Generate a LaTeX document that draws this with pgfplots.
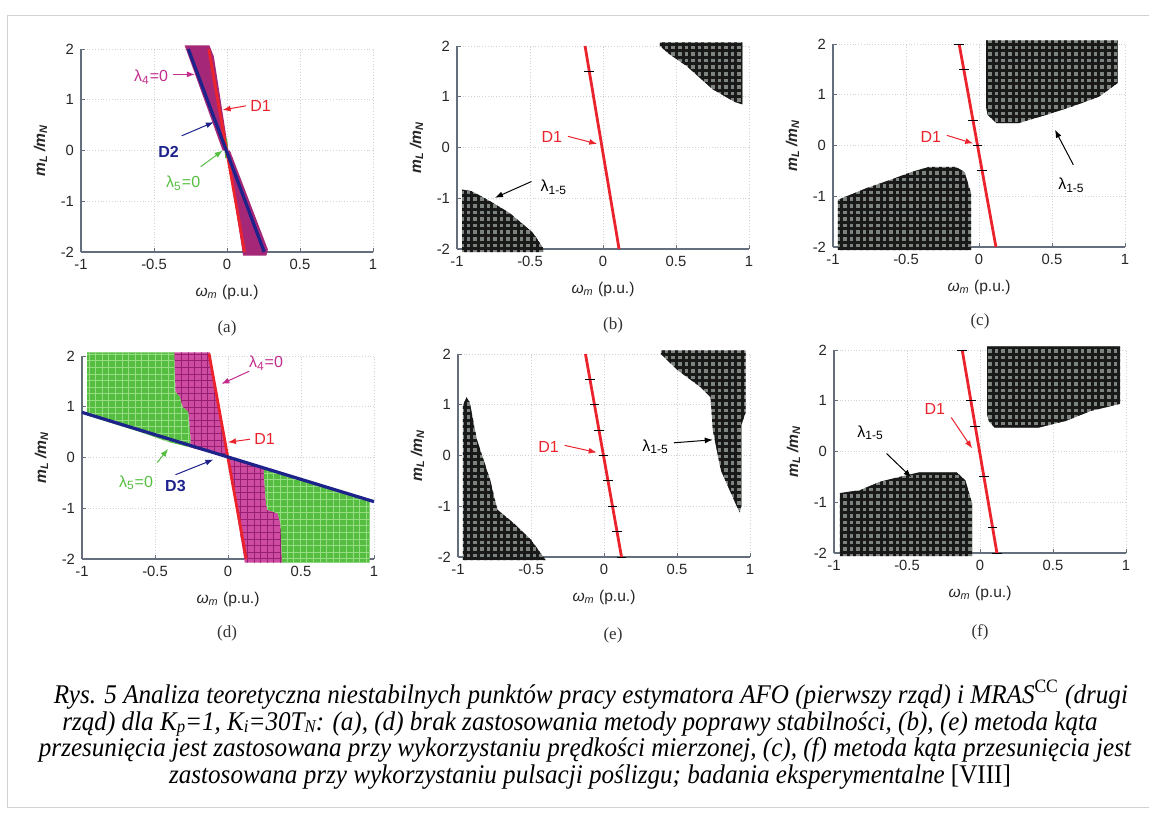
\documentclass[border=0pt]{standalone}
\usepackage{fontspec}
\setmainfont{Liberation Serif}
\setsansfont{Liberation Sans}
\newfontfamily\capfont{Liberation Serif}[FakeStretch=0.93]
\usepackage{pgfplots}
\pgfplotsset{compat=1.18}
\usetikzlibrary{arrows.meta,patterns}
\newcommand\csub[1]{\raisebox{-0.18ex}{\fontsize{9}{9}\selectfont #1}}

\definecolor{myred}{RGB}{235,35,45}
\definecolor{myblue}{RGB}{30,35,140}
\definecolor{mymag}{RGB}{195,45,140}
\definecolor{magfill}{RGB}{205,75,160}
\definecolor{magdark}{RGB}{150,30,115}
\definecolor{magA}{RGB}{165,40,120}
\definecolor{mygreen}{RGB}{85,190,65}
\definecolor{greenlight}{RGB}{150,220,130}
\definecolor{axgray}{RGB}{100,110,125}
\definecolor{darkfill}{RGB}{125,132,125}

\pgfdeclarepatternformonly{mygrid}{\pgfqpoint{-1pt}{-1pt}}{\pgfqpoint{4.3pt}{4.3pt}}{\pgfqpoint{3.3pt}{3.3pt}}{%
  \pgfsetlinewidth{1.5pt}%
  \pgfpathmoveto{\pgfqpoint{0pt}{1.65pt}}\pgfpathlineto{\pgfqpoint{3.3pt}{1.65pt}}%
  \pgfpathmoveto{\pgfqpoint{1.65pt}{0pt}}\pgfpathlineto{\pgfqpoint{1.65pt}{3.3pt}}%
  \pgfusepath{stroke}}
\pgfdeclarepatternformonly{thingrid}{\pgfqpoint{-1pt}{-1pt}}{\pgfqpoint{4.3pt}{4.3pt}}{\pgfqpoint{3.3pt}{3.3pt}}{%
  \pgfsetlinewidth{0.5pt}%
  \pgfpathmoveto{\pgfqpoint{0pt}{1.65pt}}\pgfpathlineto{\pgfqpoint{3.3pt}{1.65pt}}%
  \pgfpathmoveto{\pgfqpoint{1.65pt}{0pt}}\pgfpathlineto{\pgfqpoint{1.65pt}{3.3pt}}%
  \pgfusepath{stroke}}

\tikzset{
  ann/.style={-{Latex[length=4pt,width=3pt]}, line width=0.5pt},
  atxt/.style={font=\sffamily\fontsize{8}{9}\selectfont, inner sep=0pt},
  dark/.style={fill=darkfill, draw=none, postaction={pattern=mygrid, pattern color=black!90}},
  magreg/.style={fill=magfill, draw=none, postaction={pattern=thingrid, pattern color=magdark}},
  greenreg/.style={fill=mygreen, draw=none, postaction={pattern=thingrid, pattern color=greenlight}},
}

\pgfplotsset{
  panel/.style={
    scale only axis, width=146pt, height=101.5pt,
    xmin=-1, xmax=1, ymin=-2, ymax=2,
    xtick={-1,-0.5,0,0.5,1}, ytick={-2,-1,0,1,2},
    axis x line*=bottom, axis y line*=left,
    axis line style={draw=axgray, line width=0.6pt, -},
    tick align=inside, major tick length=2pt,
    tick style={axgray, line width=0.4pt},
    grid=major, grid style={gray!35, densely dotted, line width=0.3pt},
    clip=false,
    ticklabel style={font=\sffamily\fontsize{7.4}{8}\selectfont, text=black!85},
    /pgf/number format/assume math mode=true,
    xlabel={{\itshape ω\textsubscript{m}} (p.u.)},
    ylabel={\bfseries\itshape m\textsubscript{L}\,/m\textsubscript{N}},
    label style={font=\sffamily\fontsize{7.8}{9}\selectfont, text=black!85},
    xlabel style={yshift=-1pt},
    anchor=south west,
  },
  d1/.style={myred, line width=1.4pt},
  d1m/.style={only marks, mark=-, mark size=2.4pt, mark options={black, line width=0.5pt}},
}

\begin{document}
\begin{tikzpicture}[x=0.5pt, y=-0.5pt]
\useasboundingbox (0,0) rectangle (1149,813);
% faint scan frame
\draw[gray!35, line width=0.4pt] (1149,15) -- (7,15) -- (7,807) -- (1149,807);

%================ (a)
\begin{axis}[panel, at={(40.5pt,-126pt)}]
\addplot[fill=magA, draw=none] coordinates {(-0.29,2.07) (-0.12,2.07) (-0.09,1.85) (0.01,0.0) (-0.03,0.0)} -- cycle;
\addplot[fill=magA, draw=none] coordinates {(0.0,0.0) (0.02,0.0) (0.28,-1.95) (0.27,-2.07) (0.11,-2.07)} -- cycle;
\addplot[fill=mygreen, draw=none] coordinates {(-0.025,0.25) (0.0,0.25) (0.012,-0.15) (-0.012,-0.15)} -- cycle;
\addplot[d1] coordinates {(-0.125,2) (0.12,-2)};
\addplot[myblue, line width=1.6pt] coordinates {(-0.265,2) (0.255,-2)};
\node[atxt, text=mymag] at (axis cs:-0.52,1.45) {λ\textsubscript{4}=0};
\draw[ann, mymag] (axis cs:-0.37,1.5) -- (axis cs:-0.22,1.5);
\node[atxt, text=myred] at (axis cs:0.23,0.88) {D1};
\draw[ann, myred] (axis cs:0.13,0.88) -- (axis cs:-0.03,0.8);
\node[atxt, text=myblue, font=\sffamily\bfseries\fontsize{8}{9}\selectfont] at (axis cs:-0.4,-0.03) {D2};
\draw[ann, myblue] (axis cs:-0.31,0.29) -- (axis cs:-0.09,0.56);
\node[atxt, text=mygreen] at (axis cs:-0.3,-0.65) {λ\textsubscript{5}=0};
\draw[ann, mygreen] (axis cs:-0.18,-0.32) -- (axis cs:-0.03,0.0);
\end{axis}

%================ (b)
\begin{axis}[panel, at={(228.5pt,-124.5pt)}]
\addplot[dark] coordinates {(-0.965,-0.83) (-0.9,-0.86) (-0.79,-1.03) (-0.64,-1.29) (-0.48,-1.68) (-0.41,-1.98) (-0.41,-2.06) (-0.965,-2.06)} -- cycle;
\addplot[dark] coordinates {(0.39,2.07) (0.955,2.07) (0.955,0.85) (0.9,0.9) (0.75,1.15) (0.575,1.6) (0.45,1.85) (0.39,2.0)} -- cycle;
\addplot[d1] coordinates {(-0.123,2) (0.11,-2)};
\addplot[d1m] coordinates {(-0.094,1.5)};
\node[atxt, text=myred] at (axis cs:-0.35,0.2) {D1};
\draw[ann, myred] (axis cs:-0.24,0.22) -- (axis cs:-0.04,0.07);
\node[atxt, anchor=west] at (axis cs:-0.43,-0.78) {λ\textsubscript{1-5}};
\draw[ann, black] (axis cs:-0.49,-0.67) -- (axis cs:-0.74,-0.99);
\end{axis}

%================ (c)
\begin{axis}[panel, at={(416.5pt,-123.5pt)}]
\addplot[dark] coordinates {(0.048,2.07) (0.95,2.07) (0.95,1.23) (0.82,0.96) (0.63,0.76) (0.456,0.6) (0.27,0.44) (0.12,0.44) (0.06,0.6) (0.048,0.76)} -- cycle;
\addplot[dark] coordinates {(-0.966,-1.07) (-0.77,-0.84) (-0.61,-0.68) (-0.46,-0.52) (-0.34,-0.42) (-0.16,-0.42) (-0.1,-0.52) (-0.054,-0.94) (-0.054,-2.06) (-0.966,-2.06)} -- cycle;
\addplot[d1] coordinates {(-0.136,2) (0.116,-2)};
\addplot[d1m] coordinates {(-0.136,2) (-0.1045,1.5) (-0.0415,0.5) (-0.01,0) (0.0215,-0.5)};
\node[atxt, text=myred] at (axis cs:-0.33,0.17) {D1};
\draw[ann, myred] (axis cs:-0.22,0.2) -- (axis cs:-0.04,0.04);
\node[atxt, anchor=west] at (axis cs:0.54,-0.78) {λ\textsubscript{1-5}};
\draw[ann, black] (axis cs:0.646,-0.38) -- (axis cs:0.52,0.31);
\end{axis}

%================ (d)
\begin{axis}[panel, at={(41pt,-279.5pt)}]
\addplot[greenreg] coordinates {(-0.965,2.07) (-0.366,2.07) (-0.36,1.3) (-0.33,1.2) (-0.31,1.0) (-0.27,0.9) (-0.255,0.35) (-0.26,0.2) (-0.4,0.3) (-0.6,0.5) (-0.965,0.83)} -- cycle;
\addplot[magreg] coordinates {(-0.366,2.07) (-0.125,2.07) (0.0,0.0) (-0.26,0.2) (-0.255,0.35) (-0.27,0.9) (-0.31,1.0) (-0.33,1.2) (-0.36,1.3)} -- cycle;
\addplot[magreg] coordinates {(0.0,0.0) (0.245,-0.21) (0.245,-0.3) (0.26,-0.9) (0.27,-1.03) (0.34,-1.1) (0.36,-1.3) (0.37,-2.07) (0.115,-2.07)} -- cycle;
\addplot[greenreg] coordinates {(0.245,-0.21) (0.97,-0.84) (0.97,-2.07) (0.37,-2.07) (0.36,-1.3) (0.34,-1.1) (0.27,-1.03) (0.26,-0.9) (0.245,-0.3)} -- cycle;
\addplot[d1] coordinates {(-0.13,2.05) (0.125,-2)};
\addplot[myblue, line width=1.6pt] coordinates {(-1,0.89) (1,-0.87)};
\node[atxt, text=mymag] at (axis cs:0.26,1.86) {λ\textsubscript{4}=0};
\draw[ann, mymag] (axis cs:0.145,1.7) -- (axis cs:-0.045,1.45);
\node[atxt, text=myred] at (axis cs:0.25,0.36) {D1};
\draw[ann, myred] (axis cs:0.15,0.36) -- (axis cs:0.0,0.3);
\node[atxt, text=mygreen] at (axis cs:-0.63,-0.5) {λ\textsubscript{5}=0};
\draw[ann, mygreen] (axis cs:-0.485,-0.1) -- (axis cs:-0.41,0.17);
\node[atxt, text=myblue, font=\sffamily\bfseries\fontsize{8}{9}\selectfont] at (axis cs:-0.36,-0.57) {D3};
\draw[ann, myblue] (axis cs:-0.36,-0.34) -- (axis cs:-0.1,-0.04);
\end{axis}

%================ (e)
\begin{axis}[panel, at={(229pt,-278.5pt)}]
\addplot[dark] coordinates {(-0.94,1.15) (-0.92,1.05) (-0.87,0.31) (-0.78,-0.48) (-0.73,-1.07) (-0.62,-1.33) (-0.5,-1.66) (-0.4,-2.06) (-0.966,-2.06) (-0.966,1.0)} -- cycle;
\addplot[dark] coordinates {(0.39,2.07) (0.97,2.07) (0.97,0.84) (0.94,0.6) (0.94,-1.0) (0.93,-1.12) (0.92,-1.07) (0.8,-0.29) (0.745,0.5) (0.73,1.15) (0.66,1.35) (0.505,1.68) (0.39,2.0)} -- cycle;
\addplot[d1] coordinates {(-0.127,2) (0.12,-2)};
\addplot[d1m] coordinates {(-0.096,1.5) (-0.065,1) (-0.034,0.5) (-0.0035,0) (0.027,-0.5) (0.058,-1) (0.089,-1.5) (0.12,-2)};
\node[atxt, text=myred] at (axis cs:-0.38,0.17) {D1};
\draw[ann, myred] (axis cs:-0.27,0.2) -- (axis cs:-0.05,0.06);
\node[atxt, anchor=west] at (axis cs:0.26,0.17) {λ\textsubscript{1-5}};
\draw[ann, black] (axis cs:0.478,0.25) -- (axis cs:0.745,0.31);
\end{axis}

%================ (f)
\begin{axis}[panel, at={(417pt,-276.5pt)}]
\addplot[dark] coordinates {(0.048,2.07) (0.96,2.07) (0.96,0.94) (0.76,0.8) (0.585,0.6) (0.4,0.47) (0.1,0.47) (0.06,0.6) (0.048,0.74)} -- cycle;
\addplot[dark] coordinates {(-0.96,-0.82) (-0.82,-0.76) (-0.69,-0.6) (-0.55,-0.5) (-0.415,-0.41) (-0.16,-0.41) (-0.1,-0.57) (-0.054,-1.02) (-0.054,-2.06) (-0.96,-2.06)} -- cycle;
\addplot[d1] coordinates {(-0.122,2) (0.116,-2)};
\addplot[d1m] coordinates {(-0.122,2) (-0.0625,1) (-0.0325,0.5) (0.0275,-0.5) (0.0865,-1.5) (0.116,-2)};
\node[atxt, text=myred] at (axis cs:-0.31,0.84) {D1};
\draw[ann, myred] (axis cs:-0.197,0.67) -- (axis cs:-0.054,0.06);
\node[atxt] at (axis cs:-0.75,0.37) {λ\textsubscript{1-5}};
\draw[ann, black] (axis cs:-0.64,-0.04) -- (axis cs:-0.47,-0.51);
\end{axis}

% sub captions
\begin{scope}[every node/.style={font=\fontsize{8.5}{10}\selectfont, text=black!80}]
\node at (227,328) {(a)};
\node at (613,325) {(b)};
\node at (980,321) {(c)};
\node at (227,633) {(d)};
\node at (613,635) {(e)};
\node at (980,632) {(f)};
\end{scope}

% main caption
\begin{scope}[every node/.style={font=\capfont\itshape\fontsize{13.5}{14}\selectfont, anchor=base, inner sep=0pt}]
\node at (591,703) {Rys. 5 Analiza teoretyczna niestabilnych punktów pracy estymatora AFO (pierwszy rząd) i MRAS\textsuperscript{\upshape CC} (drugi};
\node at (580,730) {rząd) dla K\csub{p}=1, K\csub{i}=30T\csub{N}: (a), (d) brak zastosowania metody poprawy stabilności, (b), (e) metoda kąta};
\node at (585,756) {przesunięcia jest zastosowana przy wykorzystaniu prędkości mierzonej, (c), (f) metoda kąta przesunięcia jest};
\node at (590,783) {zastosowana przy wykorzystaniu pulsacji poślizgu; badania eksperymentalne {\upshape [VIII]}};
\end{scope}
\end{tikzpicture}
\end{document}
